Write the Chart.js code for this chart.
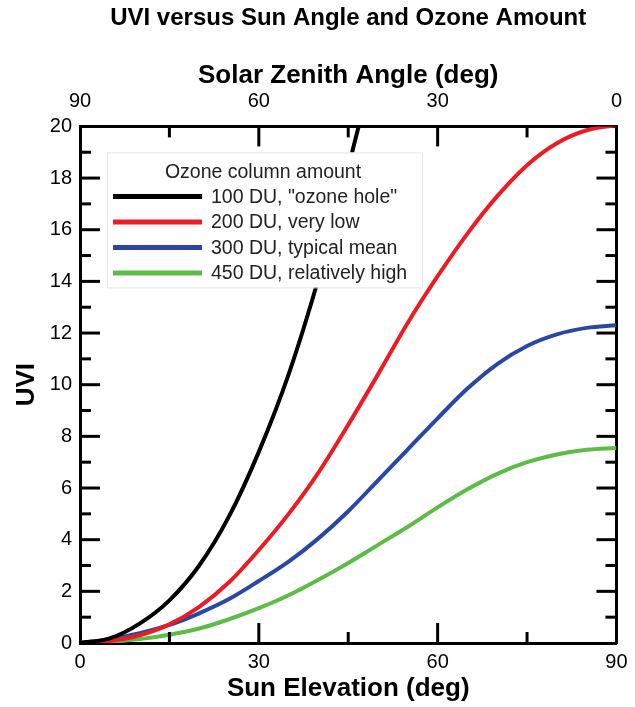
<!DOCTYPE html>
<html>
<head>
<meta charset="UTF-8">
<title>UVI versus Sun Angle and Ozone Amount</title>
<script src="https://cdn.jsdelivr.net/npm/chart.js"></script>
<style>
html, body { margin: 0; padding: 0; background: #fff; }
#wrap { width: 635px; height: 707px; }
</style>
</head>
<body>
<div id="wrap"><canvas id="uviChart" width="635" height="707"></canvas></div>
<script>
const elevation = [0, 5, 10, 15, 20, 25, 30, 35, 40, 45, 50, 55, 60, 65, 70, 75, 80, 85, 90];

// UVI for each ozone column amount (black curve runs off the top, so it stops at 50)
const uvi100 = [0, 0.18, 0.75, 1.65, 3.0, 4.9, 7.4, 10.4, 14.1, 18.4, 23.0];
const uvi200 = [0, 0.08, 0.3, 0.72, 1.4, 2.35, 3.6, 5.0, 6.6, 8.45, 10.4, 12.4, 14.2, 15.85, 17.3, 18.5, 19.35, 19.85, 20.05];
const uvi300 = [0, 0.15, 0.38, 0.7, 1.15, 1.7, 2.4, 3.15, 4.05, 5.1, 6.3, 7.5, 8.7, 9.85, 10.8, 11.5, 11.95, 12.2, 12.3];
const uvi450 = [0, 0.05, 0.15, 0.32, 0.56, 0.92, 1.35, 1.85, 2.45, 3.1, 3.8, 4.5, 5.25, 5.95, 6.55, 7.0, 7.3, 7.48, 7.55];

const seriesLabels = ['100 DU, "ozone hole"', '200 DU, very low', '300 DU, typical mean', '450 DU, relatively high'];
const seriesColors = ['#000000', '#ec1c24', '#2b47a6', '#5cbc46'];

// Tick labels
const elevationTicks = [0, 30, 60, 90];
const zenithTicks    = [90, 60, 30, 0];
const uviTicks       = [0, 2, 4, 6, 8, 10, 12, 14, 16, 18, 20];

const FONT = '"Liberation Sans", Arial, Helvetica, sans-serif';

const toPoints = (ys) => ys.map((y, i) => ({x: elevation[i], y}));

// Inward tick marks on all four sides, placed through the chart scales
const innerTicks = {
    id: 'innerTicks',
    afterDatasetsDraw(chart) {
        const {ctx, chartArea: a, scales} = chart;
        const major = 20, minor = 11;
        ctx.save();
        ctx.strokeStyle = '#000';
        ctx.lineWidth   = 3;
        const line = (x1, y1, x2, y2) => {
            ctx.beginPath();
            ctx.moveTo(x1, y1);
            ctx.lineTo(x2, y2);
            ctx.stroke();
        };
        for (let v = 15; v < 90; v += 15)
        {
            const len = v % 30 === 0 ? major : minor;
            const xb  = scales.x.getPixelForValue(v);
            const xt  = scales.x2.getPixelForValue(v);
            line(xb, a.bottom, xb, a.bottom - len);
            line(xt, a.top, xt, a.top + len);
        }
        for (let v = 1; v < 20; v++)
        {
            const len = v % 2 === 0 ? major : minor;
            const y   = scales.y.getPixelForValue(v);
            line(a.left, y, a.left + len, y);
            line(a.right, y, a.right - len, y);
        }
        ctx.restore();
    }
};

// Opaque legend box inside the plot, drawn over the curves
const boxLegend = {
    id: 'boxLegend',
    afterDatasetsDraw(chart) {
        const {ctx, chartArea: a} = chart;
        const left = a.left + 27, top = a.top + 26, w = 315, h = 135;
        ctx.save();
        ctx.fillStyle = '#fff';
        ctx.fillRect(left, top, w, h);
        ctx.strokeStyle = '#e4e4e4';
        ctx.lineWidth   = 1;
        ctx.strokeRect(left + 0.5, top + 0.5, w, h);

        ctx.fillStyle    = '#222';
        ctx.font         = '19.5px ' + FONT;
        ctx.textBaseline = 'middle';
        ctx.textAlign    = 'center';
        ctx.fillText('Ozone column amount', a.left + 183, top + 20);

        ctx.textAlign = 'left';
        chart.data.datasets.forEach((ds, i) => {
            const y = top + 44 + i * 25.5;
            ctx.strokeStyle = ds.borderColor;
            ctx.lineWidth   = 5;
            ctx.beginPath();
            ctx.moveTo(a.left + 33, y);
            ctx.lineTo(a.left + 122, y);
            ctx.stroke();
            ctx.fillStyle = '#222';
            ctx.fillText(ds.label, a.left + 131, y + 1);
        });
        ctx.restore();
    }
};

const datasets = [uvi100, uvi200, uvi300, uvi450].map((ys, i) => ({
    label: seriesLabels[i],
    data: toPoints(ys),
    borderColor: seriesColors[i],
    backgroundColor: seriesColors[i],
    borderWidth: 4,
    pointRadius: 0,
    cubicInterpolationMode: 'monotone',
    fill: false
}));

const tickFont  = {family: FONT, size: 20};
const titleFont = {family: FONT, size: 26, weight: 'bold'};

new Chart(document.getElementById('uviChart'), {
    type: 'line',
    data: {datasets},
    plugins: [boxLegend, innerTicks],
    options: {
        responsive: false,
        animation: false,
        devicePixelRatio: 1,
        layout: {padding: 0},
        plugins: {
            legend: {display: false},
            tooltip: {enabled: false},
            title: {
                display: true,
                text: 'UVI versus Sun Angle and Ozone Amount',
                fullSize: false,
                color: '#000',
                font: {family: FONT, size: 24, weight: 'bold'},
                padding: {top: 4, bottom: 0}
            }
        },
        scales: {
            x: {
                type: 'linear',
                position: 'bottom',
                min: 0,
                max: 90,
                afterBuildTicks: (s) => { s.ticks = elevationTicks.map((value) => ({value})); },
                afterFit: (s) => { s.height = 64; },
                grid: {display: false, drawTicks: false},
                border: {display: true, color: '#000', width: 3},
                ticks: {color: '#000', font: tickFont, padding: 7, maxRotation: 0},
                title: {display: true, text: 'Sun Elevation (deg)', color: '#000', font: titleFont, padding: {top: 0, bottom: 3}}
            },
            x2: {
                type: 'linear',
                axis: 'x',
                position: 'top',
                reverse: true,
                min: 0,
                max: 90,
                afterBuildTicks: (s) => { s.ticks = zenithTicks.map((value) => ({value})); },
                afterFit: (s) => { s.height = 93.6; },
                grid: {display: false, drawTicks: false},
                border: {display: true, color: '#000', width: 3},
                ticks: {color: '#000', font: tickFont, padding: 13, maxRotation: 0},
                title: {display: true, text: 'Solar Zenith Angle (deg)', color: '#000', font: titleFont, padding: {top: 27, bottom: 0}}
            },
            y: {
                type: 'linear',
                position: 'left',
                min: 0,
                max: 20,
                afterBuildTicks: (s) => { s.ticks = uviTicks.map((value) => ({value})); },
                afterFit: (s) => { s.width = 80; },
                grid: {display: false, drawTicks: false},
                border: {display: true, color: '#000', width: 3},
                ticks: {color: '#000', font: tickFont, padding: 8},
                title: {display: true, text: 'UVI', color: '#000', font: titleFont, padding: {top: 11, bottom: 0}}
            },
            y2: {
                type: 'linear',
                axis: 'y',
                position: 'right',
                min: 0,
                max: 20,
                afterFit: (s) => { s.width = 13; },
                grid: {display: false, drawTicks: false},
                border: {display: true, color: '#000', width: 3},
                ticks: {display: false}
            }
        }
    }
});
</script>
</body>
</html>
